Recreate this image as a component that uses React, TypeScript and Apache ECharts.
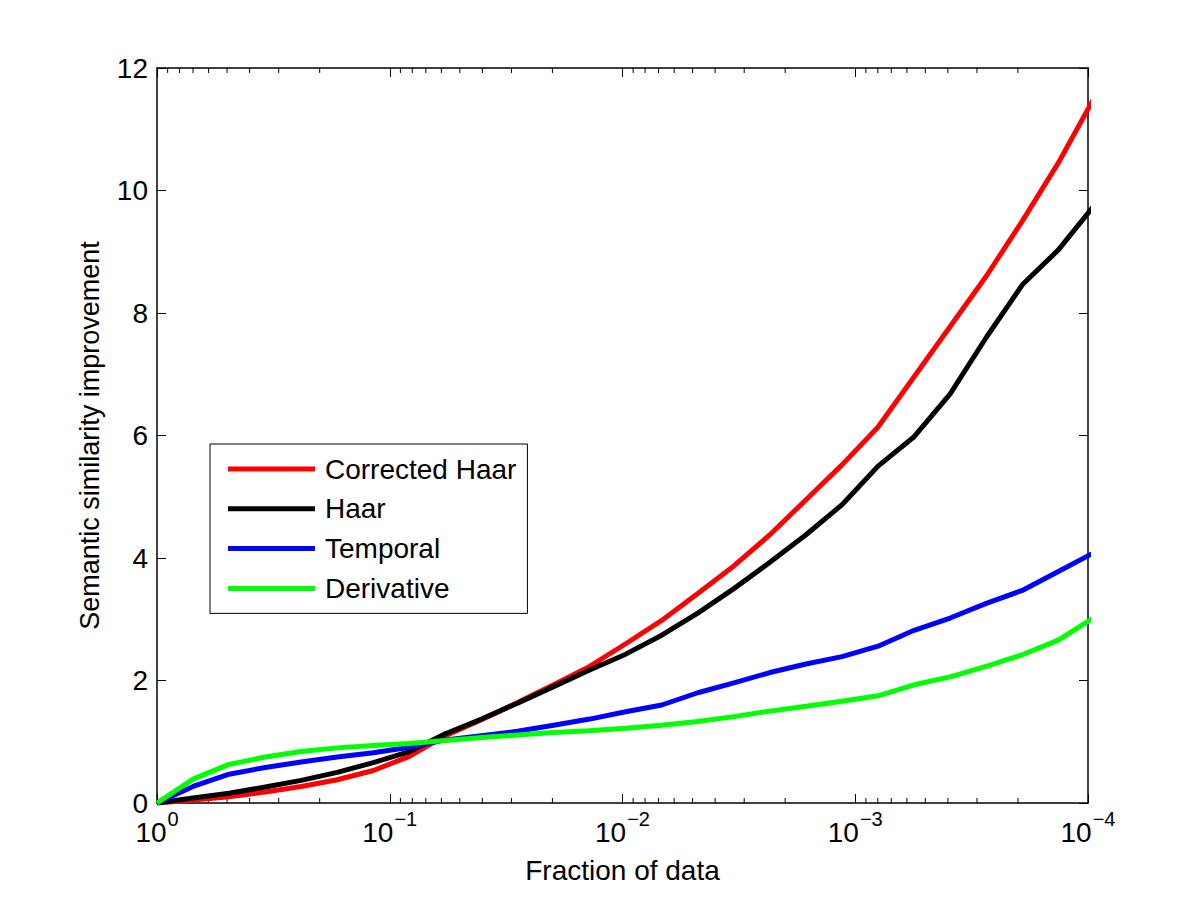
import React, { useEffect, useRef } from "react";
import * as echarts from "echarts";

// Fraction of data kept (x), 0.7^k
const fractions = [
  1, 0.7, 0.49, 0.343, 0.2401, 0.1681, 0.1176, 0.08235, 0.05765, 0.04035,
  0.02825, 0.01977, 0.01384, 0.009689, 0.006782, 0.004748, 0.003323, 0.002326,
  0.001628, 0.00114, 0.0007979, 0.0005585, 0.000391, 0.0002737, 0.0001916,
  0.0001341, 0.00009387,
];

const correctedHaar = [
  0, 0.05, 0.1, 0.18, 0.27, 0.38, 0.53, 0.76, 1.1, 1.36, 1.64, 1.93, 2.23, 2.6,
  2.98, 3.42, 3.87, 4.38, 4.95, 5.52, 6.14, 6.96, 7.78, 8.6, 9.5, 10.45, 11.52,
];
const haar = [
  0, 0.08, 0.16, 0.26, 0.37, 0.5, 0.66, 0.84, 1.13, 1.37, 1.63, 1.9, 2.17, 2.43,
  2.74, 3.1, 3.5, 3.93, 4.38, 4.87, 5.5, 5.98, 6.68, 7.6, 8.46, 9.03, 9.76,
];
const temporal = [
  0, 0.27, 0.47, 0.58, 0.67, 0.75, 0.82, 0.91, 1.03, 1.1, 1.17, 1.27, 1.37,
  1.49, 1.6, 1.8, 1.96, 2.13, 2.27, 2.39, 2.56, 2.82, 3.02, 3.26, 3.47, 3.78,
  4.09,
];
const derivative = [
  0, 0.39, 0.63, 0.75, 0.84, 0.9, 0.94, 0.97, 1.02, 1.07, 1.11, 1.15, 1.18,
  1.22, 1.27, 1.33, 1.41, 1.5, 1.58, 1.66, 1.75, 1.93, 2.06, 2.23, 2.42, 2.66,
  3.03,
];

const seriesNames = ["Corrected Haar", "Haar", "Temporal", "Derivative"];
const seriesColors = ["#ff0000", "#000000", "#0000ff", "#00ff00"];
const seriesValues = [correctedHaar, haar, temporal, derivative];

// decade exponents shown on the x axis (as -log10 of the fraction)
const decadeTicks = [0, 1, 2, 3, 4];
const minorMultipliers = [2, 3, 4, 5, 6, 7, 8, 9];

const FONT = "'Liberation Sans', Arial, Helvetica, sans-serif";

export default function App() {
  const ref = useRef<HTMLDivElement>(null);

  useEffect(() => {
    if (!ref.current) return;
    const chart = echarts.init(ref.current, null, { renderer: "svg" });

    // minor tick positions (fractions m * 10^-(d+1))
    const minorFractions: number[][] = [];
    for (let d = 0; d < decadeTicks.length - 1; d++) {
      for (const m of minorMultipliers) minorFractions.push([m * Math.pow(10, -(d + 1)), 0]);
    }

    const tickLine = { color: "#000", width: 1 };
    const axisLine = { show: true, onZero: false, lineStyle: { color: "#000", width: 1.5 } };

    const decoAxis = (pos: string, withLabels: boolean) => ({
      type: "value",
      gridIndex: 0,
      position: pos,
      min: 0,
      max: 4,
      interval: 1,
      axisLine,
      axisTick: { show: true, inside: true, length: 9, lineStyle: tickLine },
      axisLabel: withLabels
        ? {
            show: true,
            margin: 15,
            formatter: (v: number) =>
              v === 0 ? "{b|10}{s|0}" : `{b|10}{s|\u2212${v}}`,
            rich: {
              b: {
                fontSize: 28,
                fontFamily: FONT,
                color: "#000",
                lineHeight: 28,
                verticalAlign: "bottom",
              },
              s: {
                fontSize: 20,
                fontFamily: FONT,
                color: "#000",
                lineHeight: 20,
                verticalAlign: "bottom",
                padding: [0, 0, 17, 1],
              },
            },
          }
        : { show: false },
      splitLine: { show: false },
      ...(withLabels
        ? {
            name: "Fraction of data",
            nameLocation: "middle",
            nameGap: 53,
            nameTextStyle: { fontSize: 28, fontFamily: FONT, color: "#000" },
          }
        : {}),
    });

    const option: any = {
      animation: false,
      backgroundColor: "#fff",
      grid: { left: 157, right: 112, top: 68, bottom: 99, containLabel: false },
      legend: {
        show: true,
        orient: "vertical",
        left: 210,
        top: 444,
        data: seriesNames,
        icon: "rect",
        itemWidth: 87,
        itemHeight: 5,
        itemGap: 11.8,
        padding: [11, 11, 11, 18],
        borderColor: "#000",
        borderWidth: 1,
        backgroundColor: "#fff",
        textStyle: {
          fontSize: 28,
          fontFamily: FONT,
          color: "#000",
          lineHeight: 27,
          padding: [0, 0, 0, 5],
        },
      },
      xAxis: [
        {
          type: "log",
          logBase: 10,
          gridIndex: 0,
          min: 0.0001,
          max: 1,
          inverse: true,
          show: false,
          axisLine: { onZero: false },
        },
        decoAxis("bottom", true),
        decoAxis("top", false),
      ],
      yAxis: [
        {
          type: "value",
          position: "left",
          min: 0,
          max: 12,
          interval: 2,
          axisLine,
          axisTick: { show: true, inside: true, length: 9, lineStyle: tickLine },
          axisLabel: {
            show: true,
            margin: 9,
            fontSize: 28,
            fontFamily: FONT,
            color: "#000",
          },
          splitLine: { show: false },
          name: "Semantic similarity improvement",
          nameLocation: "middle",
          nameGap: 54,
          nameTextStyle: { fontSize: 27, fontFamily: FONT, color: "#000" },
        },
        {
          type: "value",
          position: "right",
          min: 0,
          max: 12,
          interval: 2,
          axisLine,
          axisTick: { show: true, inside: true, length: 9, lineStyle: tickLine },
          axisLabel: { show: false },
          splitLine: { show: false },
        },
      ],
      series: [
        {
          name: "minor-ticks",
          type: "custom",
          xAxisIndex: 0,
          yAxisIndex: 0,
          clip: false,
          silent: true,
          z: 1,
          data: minorFractions,
          encode: { x: 0, y: 1 },
          renderItem: (params: any, api: any) => {
            const x = api.coord([api.value(0), 0])[0];
            const cs = params.coordSys;
            const bottom = cs.y + cs.height;
            const style = { stroke: "#000", lineWidth: 1 };
            return {
              type: "group",
              children: [
                { type: "line", shape: { x1: x, y1: bottom, x2: x, y2: bottom - 5 }, style },
                { type: "line", shape: { x1: x, y1: cs.y, x2: x, y2: cs.y + 5 }, style },
              ],
            };
          },
        },
        ...seriesNames.map((name, si) => ({
          name,
          type: "line",
          xAxisIndex: 0,
          yAxisIndex: 0,
          z: 3,
          data: fractions.map((f, i) => [f, seriesValues[si][i]]),
          showSymbol: false,
          symbol: "none",
          clip: true,
          color: seriesColors[si],
          lineStyle: { color: seriesColors[si], width: 5 },
        })),
      ],
    };

    chart.setOption(option);
    return () => chart.dispose();
  }, []);

  return (
    <div
      ref={ref}
      style={{ position: "absolute", left: 0, top: 0, width: 1200, height: 902 }}
    />
  );
}
